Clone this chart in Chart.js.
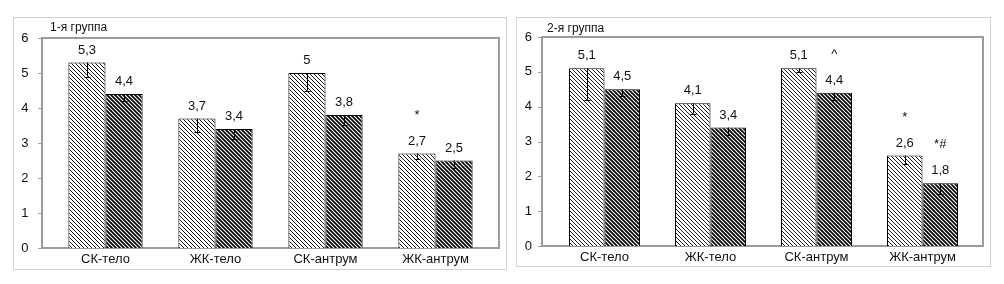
<!DOCTYPE html>
<html><head><meta charset="utf-8">
<script src="https://cdn.jsdelivr.net/npm/chart.js@4"></script>
<style>
body{margin:0;background:#fff;width:1004px;height:284px;position:relative;overflow:hidden;font-family:"Liberation Sans",Arial,sans-serif;}
.panel{position:absolute;border:1px solid #d2d2d2;box-sizing:border-box;}
canvas{position:absolute;}
.title{position:absolute;font-size:12px;color:#111;line-height:14px;white-space:nowrap;}
</style></head><body>
<div class="panel" style="left:13px;top:17px;width:494px;height:253px"></div>
<canvas id="c1" width="494" height="253" style="left:13px;top:17px;width:494px;height:253px"></canvas>
<div class="title" style="left:50px;top:20px">1-я группа</div>
<div class="panel" style="left:516px;top:17px;width:475px;height:250px"></div>
<canvas id="c2" width="475" height="250" style="left:516px;top:17px;width:475px;height:250px"></canvas>
<div class="title" style="left:547px;top:21px">2-я группа</div>
<script>
const categories = ["СК-тело", "ЖК-тело", "СК-антрум", "ЖК-антрум"];
const yTicks = [0, 1, 2, 3, 4, 5, 6];

const group1Series1 = [5.3, 3.7, 5, 2.7];
const group1Series2 = [4.4, 3.4, 3.8, 2.5];
const group1Err1 = [0.4, 0.4, 0.5, 0.15];
const group1Err2 = [0.2, 0.3, 0.3, 0.2];
const group1Marks1 = ["", "", "", "*"];
const group1Marks2 = ["", "", "", ""];

const group2Series1 = [5.1, 4.1, 5.1, 2.6];
const group2Series2 = [4.5, 3.4, 4.4, 1.8];
const group2Err1 = [0.9, 0.3, 0.1, 0.25];
const group2Err2 = [0.2, 0.2, 0.2, 0.3];
const group2Marks1 = ["", "", "", "*"];
const group2Marks2 = ["", "", "^", "*#"];

function hatch(spacing, lw) {
  const c = document.createElement('canvas');
  c.width = spacing; c.height = spacing;
  const g = c.getContext('2d');
  g.fillStyle = '#fff'; g.fillRect(0, 0, spacing, spacing);
  g.strokeStyle = '#000'; g.lineWidth = lw;
  for (let k = -spacing; k <= spacing; k += spacing) {
    g.beginPath(); g.moveTo(k - 1, -1); g.lineTo(k + spacing + 1, spacing + 1); g.stroke();
  }
  return g.createPattern(c, 'repeat');
}
const pat1 = hatch(4, 0.9);
const pat2 = hatch(4, 1.7);

const fmt = v => String(v).replace('.', ',');
const FONT = '"Liberation Sans", Arial, sans-serif';

const panelPlugin = {
  id: 'panel',
  beforeDatasetsDraw(chart, args, o) {
    const { ctx, chartArea: a } = chart;
    const ys = chart.scales.y;
    ctx.save();
    ctx.strokeStyle = '#9c9c9c';
    ctx.lineWidth = 2;
    ctx.strokeRect(a.left - o.padL, a.top, a.right - a.left + o.padL + o.padR, a.bottom - a.top);
    ctx.lineWidth = 1;
    yTicks.forEach(t => {
      const py = Math.round(ys.getPixelForValue(t)) + 0.5;
      ctx.beginPath(); ctx.moveTo(a.left - o.padL - 4, py); ctx.lineTo(a.left - o.padL, py); ctx.stroke();
    });
    ctx.restore();
  },
  afterDatasetsDraw(chart, args, o) {
    const { ctx } = chart;
    const ys = chart.scales.y;
    ctx.save();
    ctx.font = '13px ' + FONT;
    ctx.textAlign = 'center';
    ctx.textBaseline = 'middle';
    chart.data.datasets.forEach((ds, i) => {
      const meta = chart.getDatasetMeta(i);
      meta.data.forEach((bar, j) => {
        const v = ds.data[j];
        const top = bar.y;
        const e = o.errors[i][j];
        const yb = ys.getPixelForValue(v - e);
        const x = Math.round(bar.x) + 0.5;
        ctx.strokeStyle = '#000'; ctx.lineWidth = 1;
        ctx.beginPath(); ctx.moveTo(x, top); ctx.lineTo(x, yb); ctx.stroke();
        ctx.beginPath(); ctx.moveTo(x - 3, Math.round(yb) + 0.5); ctx.lineTo(x + 3, Math.round(yb) + 0.5); ctx.stroke();
        ctx.fillStyle = '#111';
        ctx.fillText(fmt(v), bar.x, top - 12.5);
        const m = o.marks[i][j];
        if (m) ctx.fillText(m, bar.x, top - 12.5 - 26);
      });
    });
    ctx.restore();
  }
};

function makeChart(id, s1, s2, e1, e2, m1, m2, g) {
  return new Chart(document.getElementById(id), {
    type: 'bar',
    data: {
      labels: categories,
      datasets: [
        { data: s1, backgroundColor: pat1, borderColor: '#000', borderWidth: 1, categoryPercentage: g.cp, barPercentage: 1 },
        { data: s2, backgroundColor: pat2, borderColor: '#000', borderWidth: 1, categoryPercentage: g.cp, barPercentage: 1 }
      ]
    },
    options: {
      responsive: false,
      animation: false,
      layout: { padding: { top: g.top, right: g.right, left: 0, bottom: 0 } },
      plugins: {
        legend: { display: false },
        tooltip: { enabled: false },
        panel: { padL: g.padL, padR: g.padR, errors: [e1, e2], marks: [m1, m2] }
      },
      scales: {
        x: {
          grid: { display: false, drawTicks: false },
          border: { display: false },
          ticks: { color: '#111', font: { size: 13, family: FONT }, padding: 4, maxRotation: 0 },
          afterFit(s) { s.height = g.xh; s.paddingLeft = 0; s.paddingRight = 0; }
        },
        y: {
          min: 0, max: 6,
          grid: { display: false, drawTicks: false },
          border: { display: false },
          ticks: { stepSize: 1, color: '#111', font: { size: 13, family: FONT }, padding: g.ypad },
          afterFit(s) { s.width = g.yw; s.paddingTop = 0; s.paddingBottom = 0; }
        }
      }
    },
    plugins: [panelPlugin]
  });
}

makeChart('c1', group1Series1, group1Series2, group1Err1, group1Err2, group1Marks1, group1Marks2,
  { cp: 0.675, top: 21, right: 16.5, xh: 22, yw: 37.5, ypad: 22, padL: 8.5, padR: 8.5 });
makeChart('c2', group2Series1, group2Series2, group2Err1, group2Err2, group2Marks1, group2Marks2,
  { cp: 0.67, top: 20, right: 15.5, xh: 21, yw: 35.5, ypad: 19.5, padL: 9.5, padR: 7.5 });
</script>
</body></html>
